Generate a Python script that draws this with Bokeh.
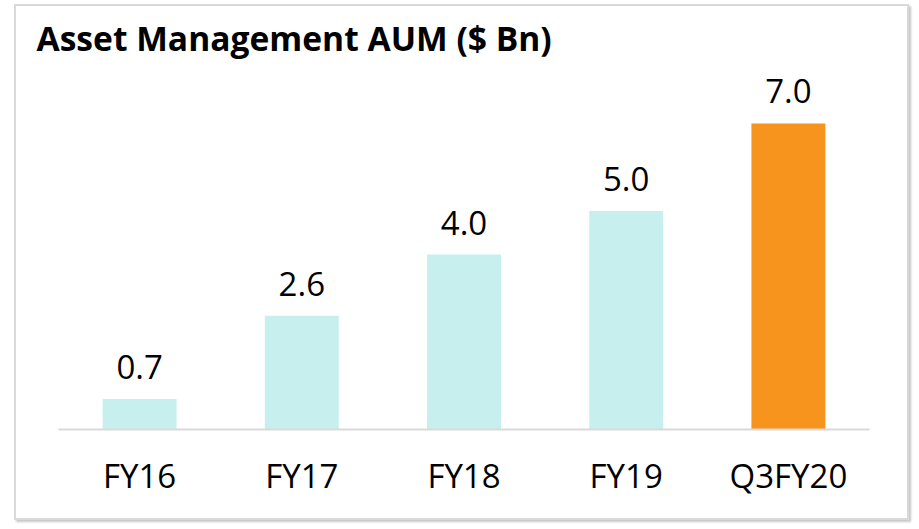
from bokeh.plotting import figure
from bokeh.models import ColumnDataSource, LabelSet, Range1d
from bokeh.core.properties import value
from bokeh.embed import file_html
from bokeh.resources import INLINE

categories = ["FY16", "FY17", "FY18", "FY19", "Q3FY20"]
values = [0.7, 2.6, 4.0, 5.0, 7.0]
value_labels = ["0.7", "2.6", "4.0", "5.0", "7.0"]
bar_colors = ["#c7efed", "#c7efed", "#c7efed", "#c7efed", "#f7941d"]
title_text = "Asset Management AUM ($ Bn)"

FONT = "Open Sans"

source = ColumnDataSource(dict(cat=categories, val=values, lab=value_labels, color=bar_colors))

p = figure(x_range=categories, width=895, height=516, output_backend="svg",
           toolbar_location=None, min_border_left=42, min_border_right=42,
           min_border_top=54, min_border_bottom=93, title=title_text)
p.y_range = Range1d(0, 8.44)
p.styles = {"margin-left": "14px", "margin-top": "4px",
            "border": "2px solid #d9d9d9",
            "box-shadow": "2px 2px 2px rgba(0,0,0,0.22)"}

p.vbar(x="cat", top="val", width=0.456, color="color", source=source, line_color=None)

labels = LabelSet(x="cat", y="val", text="lab", source=source, text_align="center",
                  text_baseline="alphabetic", y_offset=20, text_font=value(FONT),
                  text_font_size="33px", text_color="#000000")
p.add_layout(labels)

p.title.text_font = FONT
p.title.text_font_style = "bold"
p.title.text_font_size = "33.6px"
p.title.text_color = "#000000"
p.title.align = "left"
p.title.offset = -22
p.title.standoff = 0

p.yaxis.visible = False
p.xgrid.visible = False
p.ygrid.visible = False
p.outline_line_color = None
p.xaxis.axis_line_color = "#d9d9d9"
p.xaxis.axis_line_width = 2
p.xaxis.major_tick_line_color = None
p.xaxis.minor_tick_line_color = None
p.xaxis.major_tick_out = 0
p.xaxis.major_tick_in = 0
p.xaxis.major_label_standoff = 23
p.xaxis.major_label_text_font = FONT
p.xaxis.major_label_text_font_size = "33px"
p.xaxis.major_label_text_color = "#000000"

open("out.html", "w").write(file_html(p, INLINE))
